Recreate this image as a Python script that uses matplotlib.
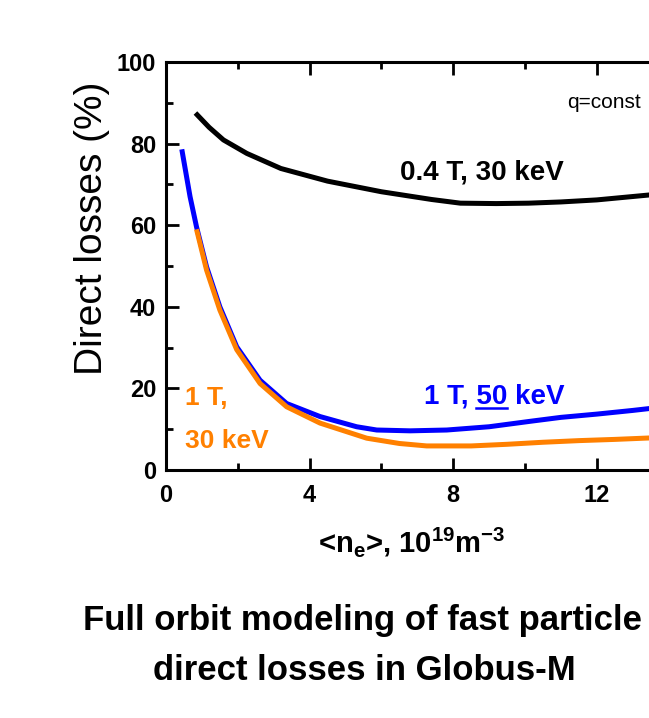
import matplotlib
matplotlib.use("Agg")
import matplotlib.pyplot as plt
from matplotlib.ticker import MultipleLocator
from matplotlib.lines import Line2D

plt.rcParams['font.family'] = ['Liberation Sans', 'DejaVu Sans']
plt.rcParams['mathtext.fontset'] = 'custom'
plt.rcParams['mathtext.rm'] = 'Liberation Sans:bold'
plt.rcParams['mathtext.bf'] = 'Liberation Sans:bold'
plt.rcParams['mathtext.it'] = 'Liberation Sans:bold'

# 0.4 T, 30 keV
x_black = [0.82, 1.2, 1.6, 2.25, 3.2, 4.5, 6.0, 7.4, 8.2, 9.2, 10.1, 11.0, 12.0, 13.45, 13.6]
y_black = [87.5, 84.0, 80.9, 77.6, 73.9, 70.8, 68.2, 66.3, 65.4, 65.3, 65.4, 65.7, 66.2, 67.4, 67.5]

# 1 T, 50 keV
x_blue = [0.44, 0.67, 0.85, 1.13, 1.5, 1.97, 2.62, 3.36, 4.29, 5.31, 5.87, 6.8, 7.82, 9.0, 10.2, 11.0, 12.0, 13.0, 13.6]
y_blue = [78.6, 67.0, 59.6, 49.8, 40.0, 30.2, 22.0, 16.3, 13.1, 10.6, 9.8, 9.6, 9.8, 10.6, 12.0, 12.9, 13.7, 14.6, 15.2]

# 1 T, 30 keV
x_orange = [0.85, 1.13, 1.5, 1.97, 2.62, 3.36, 4.29, 5.31, 5.59, 6.5, 7.26, 8.5, 9.5, 10.5, 11.5, 12.5, 13.6]
y_orange = [59.0, 49.0, 39.2, 29.5, 21.2, 15.5, 11.5, 8.6, 7.8, 6.5, 5.9, 5.9, 6.3, 6.8, 7.2, 7.5, 7.9]

xticks = [0, 4, 8, 12]
yticks = [0, 20, 40, 60, 80, 100]

W, H = 649, 718
fig = plt.figure(figsize=(W / 100, H / 100), dpi=100)
ax = fig.add_axes([166 / W, (H - 470) / H, 16 * 35.9 / W, 408 / H])

ax.plot(x_black, y_black, color='black', lw=3.6, solid_capstyle='butt')
ax.plot(x_blue, y_blue, color='#0000ff', lw=3.6, solid_capstyle='butt')
ax.plot(x_orange, y_orange, color='#ff8000', lw=3.6, solid_capstyle='butt')

ax.set_xlim(0, 16)
ax.set_ylim(0, 100)
ax.set_xticks(xticks)
ax.set_yticks(yticks)
ax.xaxis.set_minor_locator(MultipleLocator(2))
ax.yaxis.set_minor_locator(MultipleLocator(10))
ax.tick_params(which='both', direction='in', top=True, right=True, width=2)
ax.tick_params(which='major', length=9)
ax.tick_params(which='minor', length=5)
ax.tick_params(axis='x', pad=10)
ax.tick_params(axis='y', pad=7)
for lab in ax.get_xticklabels() + ax.get_yticklabels():
    lab.set_fontsize(17)
    lab.set_fontweight('bold')
for s in ax.spines.values():
    s.set_linewidth(2.2)

fig.text(567 / W, 1 - 102 / H, 'q=const', fontsize=15, va='center', ha='left')
fig.text(400 / W, 1 - 180 / H, '0.4 T, 30 keV', fontsize=20,
         fontweight='bold', va='baseline', ha='left')

# blue label with underlined "50"
bx, by = 424 / W, 1 - 403 / H
fig.text(bx, by, '1 T, 50 keV', fontsize=20, fontweight='bold', color='#0000ff',
         va='baseline', ha='left')
r = fig.canvas.get_renderer()
t1 = fig.text(bx, by, '1 T, ', fontsize=20, fontweight='bold', alpha=0)
t2 = fig.text(bx, by, '1 T, 50', fontsize=20, fontweight='bold', alpha=0)
x0 = t1.get_window_extent(r).x1 / W
x1 = t2.get_window_extent(r).x1 / W
fig.add_artist(Line2D([x0, x1], [by - 5 / H, by - 5 / H], color='#0000ff', lw=1.8,
                      transform=fig.transFigure))

fig.text(185 / W, 1 - 405 / H, '1 T,', fontsize=19,
         fontweight='bold', color='#ff8000', va='baseline', ha='left')
fig.text(185 / W, 1 - 448 / H, '30 keV', fontsize=19,
         fontweight='bold', color='#ff8000', va='baseline', ha='left')

fig.text(92 / W, 1 - 228 / H, 'Direct losses (%)', rotation=90, fontsize=28,
         va='center', ha='center')
fig.text(318 / W, 1 - 552 / H, r'<n$_{\mathbf{e}}$>, 10$^{\mathbf{19}}$m$^{\mathbf{-3}}$',
         fontsize=21, fontweight='bold', va='baseline', ha='left')

fig.text(83 / W, 1 - 630 / H, 'Full orbit modeling of fast particle', fontsize=25,
         fontweight='bold', va='baseline', ha='left')
fig.text(153 / W, 1 - 680 / H, 'direct losses in Globus-M', fontsize=25,
         fontweight='bold', va='baseline', ha='left')

fig.savefig('out.png', dpi=100)
